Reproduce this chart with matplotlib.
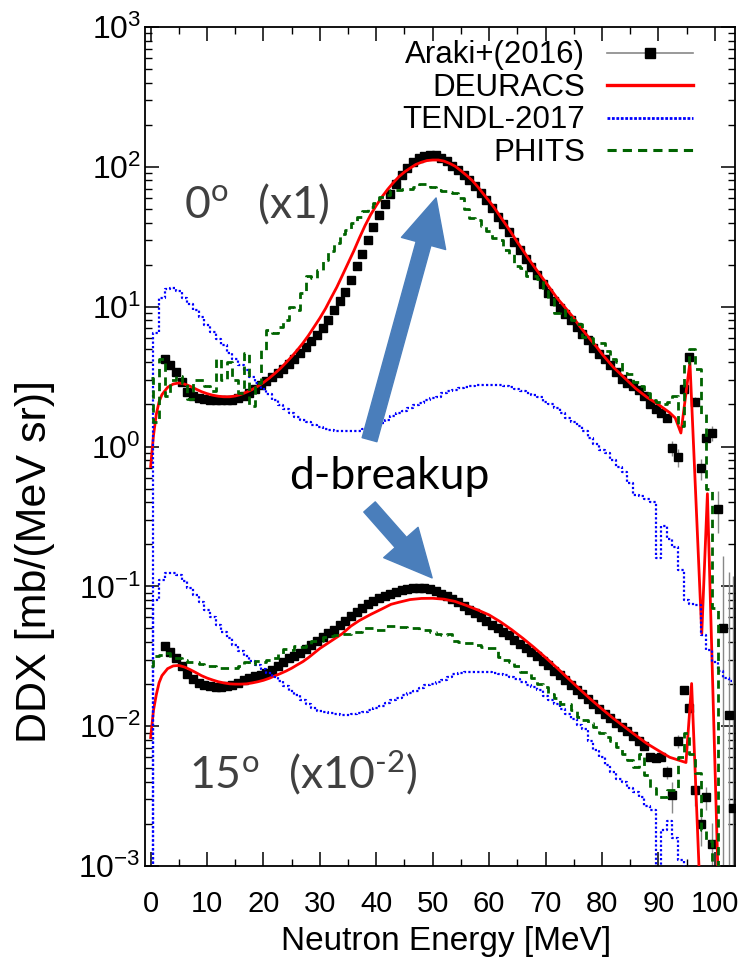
import matplotlib
matplotlib.use('Agg')
import matplotlib.pyplot as plt
import numpy as np
from matplotlib.lines import Line2D
from matplotlib.patches import FancyArrowPatch
from matplotlib.ticker import MultipleLocator, LogLocator, NullFormatter

plt.rcParams['font.family'] = ['Liberation Sans', 'DejaVu Sans']
plt.rcParams['mathtext.fontset'] = 'custom'
plt.rcParams['mathtext.rm'] = 'Lato'

# ---- Araki+(2016) measured data ----
araki0_x = np.arange(2.5, 92.0, 1.0).tolist() + [92.5, 93.5, 94.5, 95.5, 96.5, 97.5, 98.5, 99.5, 100.5, 101.5, 102.5, 103.3]
araki0_y = [4.2, 3.8, 3.4, 2.9, 2.45, 2.3, 2.22, 2.18, 2.16, 2.15, 2.15, 2.14, 2.16, 2.22, 2.3, 2.42,
            2.58, 2.75, 2.92, 3.12, 3.36, 3.6, 3.9, 4.25, 4.7, 5.15, 5.7, 6.3, 7.0, 8.0, 9.4, 11.0,
            12.8, 15.5, 19.5, 24, 30, 37, 45, 54, 64, 76, 88, 99, 108, 115, 120, 122, 121, 116, 110,
            102, 95, 87, 80, 73, 65, 58, 51, 44, 39, 34, 29, 25.5, 22, 19.2, 16.8, 14.6, 12.6, 10.9,
            9.8, 8.9, 8.1, 7.2, 6.4, 5.8, 5.1, 4.6, 4.2, 3.8, 3.4, 3.05, 2.85, 2.7, 2.55, 2.3, 2.0,
            1.85, 1.75, 1.6,
            0.97, 0.84, 2.6, 4.35, 2.1, 0.7, 1.15, 1.25, 0.36, 0.05, 0.012, 0.0026]
araki0_err = [0.0] * 90 + [0.12, 0.12, 0.15, 0.2, 0.15, 0.12, 0.15, 0.15, 0.12, 0.115, 0.114, 0.117]

araki15_x = np.arange(2.5, 100.0, 1.0).tolist()
araki15_y = [0.0375, 0.034, 0.031, 0.027, 0.0238, 0.0218, 0.0204, 0.0198, 0.0194, 0.0192, 0.0192,
             0.0194, 0.0198, 0.0205, 0.0213, 0.022, 0.0227, 0.0234, 0.0241, 0.0252, 0.0268, 0.0288,
             0.0305, 0.032, 0.0335, 0.0357, 0.038, 0.0405, 0.0432, 0.0462, 0.049, 0.0528, 0.057,
             0.0614, 0.0656, 0.07, 0.0744, 0.078, 0.082, 0.0853, 0.088, 0.091, 0.094, 0.0955, 0.097,
             0.098, 0.098, 0.096, 0.092, 0.0885, 0.085, 0.081, 0.077, 0.073, 0.068, 0.064, 0.0605,
             0.057, 0.053, 0.0505, 0.0475, 0.045, 0.0415, 0.0385, 0.0365, 0.034, 0.032, 0.0293,
             0.0272, 0.025, 0.0232, 0.0215, 0.0198, 0.0183, 0.0171, 0.0157, 0.0143, 0.0132, 0.0122,
             0.0114, 0.0106, 0.0098, 0.0092, 0.0085, 0.0078, 0.0072, 0.006, 0.0059, 0.006, 0.0047,
             0.0032, 0.0078, 0.0183, 0.0134, 0.0035, 0.002, 0.0031, 0.00144]
araki15_err = [0.0] * 89 + [0.0005, 0.0008, 0.0008, 0.001, 0.0008, 0.0008, 0.0006, 0.0006, 0.0006]

# ---- DEURACS ----
deu0_x = [0, 0.5, 1, 1.5, 2, 3, 4, 5, 6, 7, 8, 9, 10, 11, 12, 13, 14, 15, 16, 17, 18, 19, 20, 21,
          22, 23, 24, 25, 26, 27, 28, 29, 30, 31, 32, 33, 34, 35, 36, 37, 38, 39, 40, 41, 42, 43,
          44, 45, 46, 47, 48, 49, 50, 51, 52, 53, 54, 55, 56, 57, 58, 59, 60, 61, 62, 63, 64, 65,
          66, 67, 68, 69, 70, 71, 72, 73, 74, 75, 76, 77, 78, 79, 80, 82, 84, 86, 88, 90, 92, 93,
          94, 95.6, 97.7, 98.7, 100.6]
deu0_y = [0.72, 1.2, 1.7, 2.1, 2.35, 2.65, 2.8, 2.85, 2.8, 2.7, 2.58, 2.47, 2.39, 2.33, 2.29, 2.27,
          2.27, 2.3, 2.36, 2.45, 2.56, 2.7, 2.87, 3.08, 3.33, 3.62, 3.98, 4.4, 4.9, 5.5, 6.25, 7.2,
          8.3, 9.7, 11.6, 13.8, 16.8, 20.5, 25, 31, 38, 45.5, 53, 61, 69, 77, 85, 92, 98, 104, 108,
          111, 112, 112, 110, 106, 101, 94, 87, 80, 72, 64, 57, 50.5, 44, 38.5, 33.5, 29, 25.3, 22,
          19.3, 17.0, 15.0, 13.2, 11.6, 10.4, 9.3, 8.3, 7.3, 6.5, 5.8, 5.2, 4.6, 3.7, 3.1, 2.6, 2.25,
          2.0, 1.75, 1.6, 1.25, 4.0, 0.046, 0.46, 0.0008]

deu15_x = [0, 0.5, 1, 1.5, 2, 3, 4, 5, 6, 7, 8, 9, 10, 11, 12, 13, 14, 15, 16, 17, 18, 19, 20, 21,
           22, 23, 24, 25, 26, 27, 28, 30, 32, 34, 35.5, 37, 39, 41, 42.6, 44, 46, 48, 50, 52, 54,
           56, 58, 60, 62, 64, 66, 68, 70, 72, 74, 76, 78, 80, 82, 84, 86, 88, 90, 92, 94.9, 95.9,
           97.3]
deu15_y = [0.0083, 0.013, 0.0168, 0.0205, 0.023, 0.0258, 0.027, 0.0272, 0.0265, 0.0254, 0.0242,
           0.023, 0.0221, 0.0214, 0.0208, 0.0204, 0.0201, 0.02, 0.02, 0.0201, 0.0204, 0.0208,
           0.0213, 0.022, 0.0229, 0.0238, 0.0248, 0.026, 0.0275, 0.029, 0.031, 0.036, 0.0407,
           0.046, 0.052, 0.057, 0.063, 0.069, 0.0744, 0.077, 0.0805, 0.082, 0.0822, 0.081, 0.078,
           0.073, 0.0678, 0.0625, 0.0558, 0.049, 0.0425, 0.0365, 0.031, 0.0262, 0.022, 0.0185,
           0.0156, 0.0133, 0.0114, 0.0099, 0.0086, 0.0075, 0.0067, 0.006, 0.0055, 0.0202, 0.0008]

# ---- TENDL-2017 (1 MeV bins) ----
tendl0_x = np.arange(0, 104, 1.0)
tendl0_y = [0.0002, 6.5, 11.5, 13.3, 13.6, 12.9, 11.6, 10.5, 9.4, 8.4, 7.4, 6.6, 5.9, 5.3, 4.7, 4.2,
            3.85, 3.5, 3.15, 2.85, 2.6, 2.38, 2.15, 1.98, 1.85, 1.74, 1.64, 1.56, 1.49, 1.43, 1.38,
            1.34, 1.32, 1.3, 1.29, 1.29, 1.29, 1.3, 1.33, 1.36, 1.41, 1.48, 1.56, 1.65, 1.73, 1.8,
            1.88, 1.98, 2.06, 2.15, 2.22, 2.28, 2.4, 2.48, 2.55, 2.62, 2.68, 2.72, 2.75, 2.76, 2.77,
            2.76, 2.75, 2.72, 2.68, 2.6, 2.5, 2.42, 2.35, 2.28, 2.1, 2.0, 1.9, 1.75, 1.6, 1.5, 1.4,
            1.3, 1.15, 1.05, 0.95, 0.9, 0.8, 0.72, 0.66, 0.55, 0.45, 0.44, 0.42, 0.4, 0.16, 0.27,
            0.22, 0.19, 0.13, 0.08, 0.075, 0.074, 0.045, 0.035, 0.029, 0.025, 0.022, 0.021]

tendl15_x = np.arange(0, 96, 1.0)
tendl15_y = [0.0002, 0.08, 0.112, 0.124, 0.125, 0.12, 0.11, 0.097, 0.087, 0.077, 0.068, 0.06, 0.053,
             0.047, 0.0425, 0.038, 0.0345, 0.032, 0.0295, 0.0275, 0.0258, 0.024, 0.0224, 0.021,
             0.0193, 0.018, 0.0166, 0.0154, 0.0143, 0.0135, 0.0129, 0.0126, 0.0124, 0.0122, 0.0121,
             0.0121, 0.0122, 0.0124, 0.0127, 0.013, 0.0135, 0.014, 0.0146, 0.0153, 0.016, 0.0166,
             0.0173, 0.018, 0.0188, 0.0196, 0.0201, 0.0206, 0.0215, 0.0226, 0.0235, 0.024, 0.0244,
             0.0246, 0.0246, 0.0246, 0.0244, 0.0242, 0.0238, 0.0232, 0.0224, 0.0216, 0.0206, 0.0198,
             0.019, 0.0182, 0.0165, 0.0155, 0.0145, 0.0132, 0.0122, 0.0112, 0.0102, 0.0095, 0.0078,
             0.0068, 0.006, 0.0053, 0.0047, 0.0042, 0.004, 0.0036, 0.0034, 0.0031, 0.0027, 0.0025,
             0.0009, 0.0018, 0.0021, 0.0016, 0.0011, 0.0009]

# ---- PHITS (1 MeV bins) ----
phits0_x = np.arange(0, 102, 1.0)
phits0_y = [3.1, 1.5, 4.2, 2.3, 3.0, 3.2, 2.85, 2.2, 3.0, 3.0, 2.7, 2.5, 4.2, 3.0, 4.0, 3.0, 2.4, 4.7,
            1.95, 2.85, 4.9, 6.8, 6.5, 7.2, 8.1, 10, 9.5, 12.5, 16.5, 16, 18.4, 21.7, 25, 28.4, 33,
            35.5, 40, 44, 48, 52, 55, 61, 63, 68, 68.5, 70, 70, 72, 76, 76, 72, 68, 67, 66, 65, 60,
            50, 43, 42, 38, 35, 31, 30, 25.6, 24, 19.4, 19, 16.5, 16.5, 15.7, 13, 11.3, 9, 9.5, 8.5,
            8.1, 7.5, 6.1, 6.0, 5.5, 5.5, 4.8, 4.2, 4.0, 3.34, 3.3, 2.9, 2.7, 2.4, 2.15, 2.1, 2.03,
            2.1, 2.3, 1.4, 3.9, 4.95, 3.6, 1.7, 0.5, 0.07, 0.0005]

phits15_x = np.arange(0, 101, 1.0)
phits15_y = [0.027, 0.0318, 0.0325, 0.0336, 0.031, 0.031, 0.030, 0.029, 0.0286, 0.028, 0.027, 0.027,
             0.026, 0.026, 0.0262, 0.026, 0.027, 0.0286, 0.028, 0.0293, 0.029, 0.03, 0.0305, 0.033,
             0.0355, 0.035, 0.0375, 0.037, 0.039, 0.0407, 0.041, 0.0435, 0.0442, 0.045, 0.0455,
             0.046, 0.047, 0.0475, 0.0508, 0.0505, 0.049, 0.049, 0.052, 0.052, 0.0515, 0.051, 0.0508,
             0.05, 0.049, 0.049, 0.047, 0.0455, 0.045, 0.046, 0.041, 0.040, 0.0395, 0.0395, 0.038,
             0.037, 0.036, 0.036, 0.0314, 0.030, 0.0286, 0.027, 0.0245, 0.0245, 0.022, 0.0202, 0.019,
             0.0171, 0.016, 0.0145, 0.0145, 0.013, 0.0117, 0.011, 0.0105, 0.0098, 0.009, 0.0084,
             0.0078, 0.0071, 0.0063, 0.0057, 0.0051, 0.0063, 0.0045, 0.0036, 0.0031, 0.0031, 0.0035,
             0.0035, 0.006, 0.0089, 0.0063, 0.0046, 0.0018, 0.0015, 0.0002]

fig = plt.figure(figsize=(7.38, 9.67), dpi=100)
ax = fig.add_axes([0.1965, 0.1044, 0.7995, 0.8676])

# measured data (drawn first, models on top)
for xs, ys, es in [(araki0_x, araki0_y, araki0_err), (araki15_x, araki15_y, araki15_err)]:
    ax.errorbar(xs, ys, yerr=es, fmt='s', ms=6, mfc='black', mec='black',
                ecolor='#888888', elinewidth=1.0, capsize=0, zorder=2)

for xs, ys in [(deu0_x, deu0_y), (deu15_x, deu15_y)]:
    ax.plot(xs, ys, color='red', lw=2.0, zorder=3)

for xs, ys in [(tendl0_x, tendl0_y), (tendl15_x, tendl15_y)]:
    ax.plot(xs, ys, color='blue', lw=1.6, ls=(0, (1, 1)), drawstyle='steps-mid', zorder=3)

for xs, ys in [(phits0_x, phits0_y), (phits15_x, phits15_y)]:
    ax.plot(xs, ys, color='#006400', lw=2.0, ls=(0, (3, 2)), drawstyle='steps-mid', zorder=3)

ax.set_yscale('log')
ax.set_xlim(-1.0, 103.6)
ax.set_ylim(1e-3, 1e3)

ax.xaxis.set_major_locator(MultipleLocator(10))
ax.xaxis.set_minor_locator(MultipleLocator(5))
ax.yaxis.set_major_locator(LogLocator(base=10, numticks=10))
ax.yaxis.set_minor_locator(LogLocator(base=10, subs=np.arange(2, 10), numticks=20))
ax.yaxis.set_minor_formatter(NullFormatter())
ax.tick_params(which='both', direction='in', top=True, right=True)
ax.tick_params(axis='x', which='major', pad=17, labelsize=21)
ax.tick_params(axis='y', which='major', pad=3, labelsize=23)
ax.tick_params(which='major', length=10, width=1.1)
ax.tick_params(which='minor', length=5, width=1.0)
for s in ax.spines.values():
    s.set_linewidth(1.3)

ax.set_xlabel('Neutron Energy [MeV]', fontsize=24)
ax.xaxis.set_label_coords(0.51, -0.072)
ax.set_ylabel('DDX [mb/(MeV sr)]', fontsize=31)
ax.yaxis.set_label_coords(-0.152, 0.3635)

handles = [Line2D([], [], color='#888888', lw=1.2, marker='s', ms=7, mfc='black', mec='black'),
           Line2D([], [], color='red', lw=2.4),
           Line2D([], [], color='blue', lw=2.0, ls=(0, (1, 0.6))),
           Line2D([], [], color='#006400', lw=2.2, ls=(0, (3, 2)))]
labels = ['Araki+(2016)', 'DEURACS', 'TENDL-2017', 'PHITS']
ax.legend(handles, labels, loc='upper right', bbox_to_anchor=(0.929, 0.984), frameon=False,
          markerfirst=False, handlelength=2.75, handletextpad=0.7, fontsize=22.5,
          labelspacing=0.08, borderpad=0, borderaxespad=0)

gray = '#404040'
ax.text(5.9, 43, '$\\mathrm{0^{o}\\ \\ (x1)}$', fontsize=32, color=gray)
ax.text(6.8, 0.0036, '$\\mathrm{15^{o}\\ \\ (x10^{\u20102})}$', fontsize=32, color=gray)
ax.text(24.6, 0.5, 'd-breakup', fontsize=32, color='black', family=['Lato', 'DejaVu Sans'])

arrow_color = '#4a7ebb'
style = 'simple,head_length=34,head_width=33,tail_width=11'
ax.add_patch(FancyArrowPatch((38.8, 1.12), (50.6, 60), arrowstyle=style, color=arrow_color,
                             shrinkA=0, shrinkB=0, mutation_scale=1, zorder=4))
ax.add_patch(FancyArrowPatch((38.8, 0.37), (49.9, 0.115), arrowstyle=style, color=arrow_color,
                             shrinkA=0, shrinkB=0, mutation_scale=1, zorder=4))

fig.savefig('out.png', dpi=100)
